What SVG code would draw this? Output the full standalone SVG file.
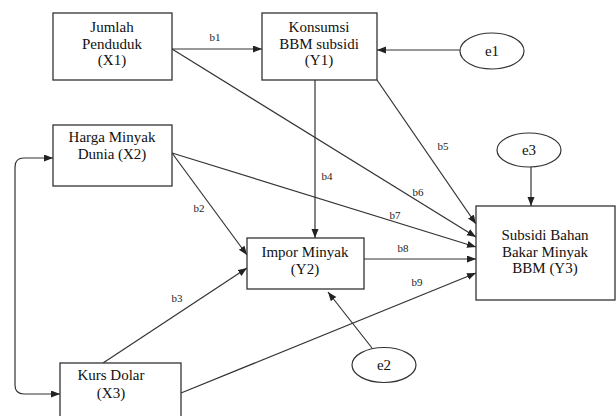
<svg xmlns="http://www.w3.org/2000/svg" width="616" height="416" viewBox="0 0 616 416">
<style>
.box{fill:#fff;stroke:#333;stroke-width:1.3}
.ell{fill:#fff;stroke:#333;stroke-width:1.2}
.t{font-family:"Liberation Serif","Times New Roman",serif;font-size:15px;fill:#111;text-anchor:middle}
.lb{font-family:"Liberation Serif","Times New Roman",serif;font-size:11px;fill:#222;text-anchor:middle}
.ed{fill:none;stroke:#333;stroke-width:1.2;marker-end:url(#ah)}
</style>
<defs>
<marker id="ah" markerUnits="userSpaceOnUse" markerWidth="10" markerHeight="8" refX="9" refY="3.5" orient="auto">
<path d="M0,0 L9,3.5 L0,7 z" fill="#222"/>
</marker>
<marker id="ahs" markerUnits="userSpaceOnUse" markerWidth="10" markerHeight="8" refX="9" refY="3.5" orient="auto-start-reverse">
<path d="M0,0 L9,3.5 L0,7 z" fill="#222"/>
</marker>
</defs>
<rect width="616" height="416" fill="#fff"/>
<g id="connectors">
<path class="ed" d="M172,49 L262,49"/>
<path class="ed" d="M460,50 L377,50"/>
<path class="ed" d="M315,80 L315,238"/>
<path class="ed" d="M377,80 L476,224"/>
<path class="ed" d="M172,49 L476,237"/>
<path class="ed" d="M172,153 L476,247"/>
<path class="ed" d="M172,153 L247,255"/>
<path class="ed" d="M364,259 L476,259"/>
<path class="ed" d="M103,363 L247,268"/>
<path class="ed" d="M181,393 L476,273"/>
<path class="ed" d="M372,348 L328,292"/>
<path class="ed" d="M531,167 L531,206"/>
<path d="M53,158 L24,158 Q15,158 15,167 L15,385 Q15,394 24,394 L60,394" fill="none" stroke="#333" stroke-width="1.2" marker-start="url(#ahs)" marker-end="url(#ah)"/>
<text class="lb" x="215" y="41">b1</text>
<text class="lb" x="199" y="212">b2</text>
<text class="lb" x="177" y="302">b3</text>
<text class="lb" x="327" y="180">b4</text>
<text class="lb" x="443" y="150">b5</text>
<text class="lb" x="418" y="196">b6</text>
<text class="lb" x="395" y="219">b7</text>
<text class="lb" x="403" y="252">b8</text>
<text class="lb" x="417" y="286">b9</text>
</g>
<g id="X1">
<rect class="box" x="53" y="13" width="119" height="67"/>
<text class="t" x="112" y="32">Jumlah</text>
<text class="t" x="112" y="48.5">Penduduk</text>
<text class="t" x="112" y="65">(X1)</text>
</g>
<g id="Y1">
<rect class="box" x="262" y="13" width="115" height="67"/>
<text class="t" x="319" y="32">Konsumsi</text>
<text class="t" x="319" y="48.5">BBM subsidi</text>
<text class="t" x="319" y="65">(Y1)</text>
</g>
<g id="e1">
<ellipse class="ell" cx="492" cy="51" rx="32" ry="18"/>
<text class="t" x="492" y="56">e1</text>
</g>
<g id="X2">
<rect class="box" x="53" y="125" width="119" height="61"/>
<text class="t" x="112" y="142">Harga Minyak</text>
<text class="t" x="112" y="159">Dunia (X2)</text>
</g>
<g id="e3">
<ellipse class="ell" cx="529" cy="150" rx="32" ry="17"/>
<text class="t" x="529" y="155">e3</text>
</g>
<g id="Y2">
<rect class="box" x="247" y="238" width="117" height="51"/>
<text class="t" x="305" y="257">Impor Minyak</text>
<text class="t" x="305" y="273.5">(Y2)</text>
</g>
<g id="Y3">
<rect class="box" x="476" y="206" width="139" height="94"/>
<text class="t" x="545" y="240">Subsidi Bahan</text>
<text class="t" x="545" y="256.5">Bakar Minyak</text>
<text class="t" x="545" y="273">BBM (Y3)</text>
</g>
<g id="X3">
<rect class="box" x="60" y="363" width="121" height="62"/>
<text class="t" x="111" y="380">Kurs Dolar</text>
<text class="t" x="111" y="398">(X3)</text>
</g>
<g id="e2">
<ellipse class="ell" cx="384" cy="365" rx="32" ry="17.5"/>
<text class="t" x="384" y="370">e2</text>
</g>
</svg>
